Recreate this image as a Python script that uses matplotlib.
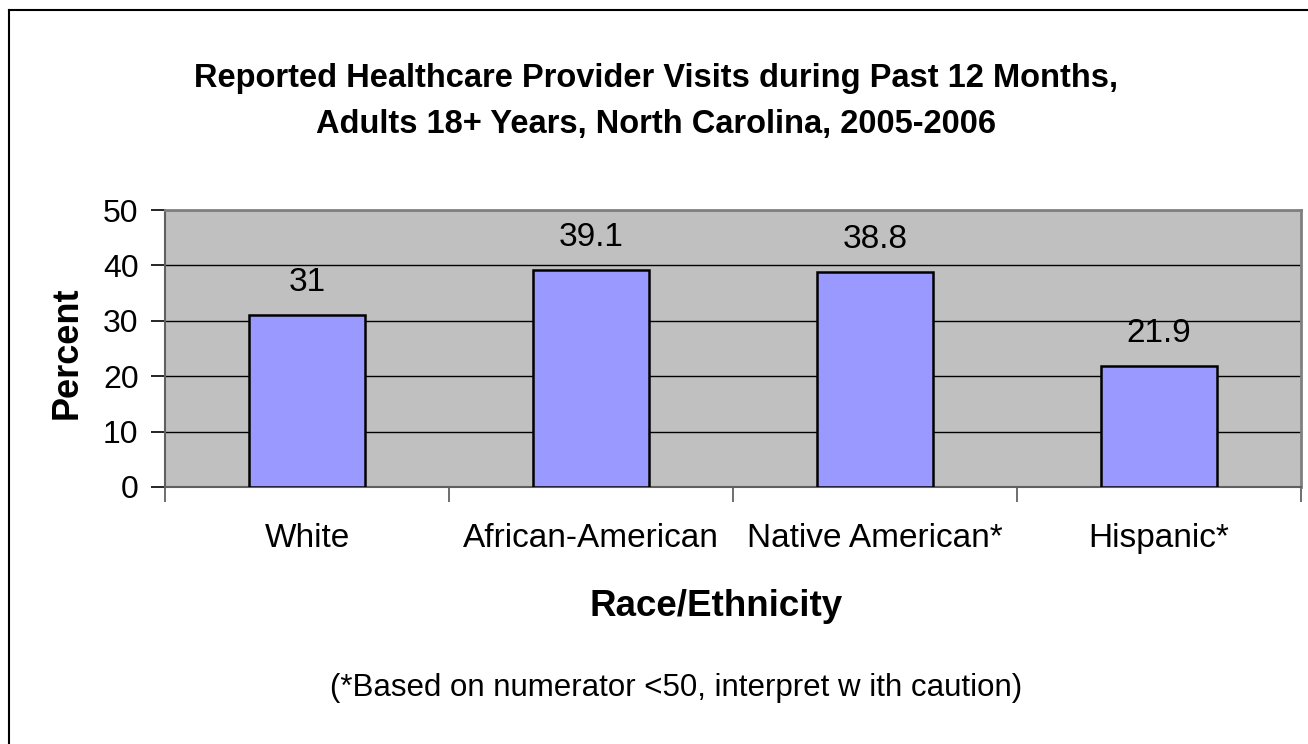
import matplotlib
matplotlib.use("Agg")
import matplotlib.pyplot as plt
from matplotlib.lines import Line2D

categories = ["White", "African-American", "Native American*", "Hispanic*"]
values = [31, 39.1, 38.8, 21.9]
value_labels = ["31", "39.1", "38.8", "21.9"]
yticks = [0, 10, 20, 30, 40, 50]

title = "Reported Healthcare Provider Visits during Past 12 Months,\nAdults 18+ Years, North Carolina, 2005-2006"
xlabel = "Race/Ethnicity"
ylabel = "Percent"
footnote = "(*Based on numerator <50, interpret w ith caution)"

plt.rcParams['font.family'] = ['Liberation Sans', 'DejaVu Sans']

fig = plt.figure(figsize=(13.08, 7.44), dpi=100)
fig.patch.set_facecolor("white")
ax = fig.add_axes([165/1308, 1 - 487/744, (1301-165)/1308, (487-210)/744])
ax.set_facecolor("#C0C0C0")

x = list(range(len(categories)))
ax.bar(x, values, width=0.405, color="#9999FF", edgecolor="black", linewidth=1.8, zorder=3)
for xi, v, lab in zip(x, values, value_labels):
    ax.text(xi, v + 3.1, lab, ha="center", va="bottom", fontsize=24, zorder=4)

ax.set_xlim(-0.5, len(categories) - 0.5)
ax.set_ylim(0, 50)
ax.set_yticks(yticks)
ax.set_yticklabels([str(t) for t in yticks], fontsize=23)
ax.yaxis.grid(True, color="black", linewidth=1.0, zorder=1)
ax.set_axisbelow(True)

ax.set_xticks([i + 0.5 for i in range(-1, len(categories))], minor=False)
ax.set_xticklabels([])
ax.set_xticks(x, minor=True)
ax.set_xticklabels(categories, minor=True, fontsize=24)
ax.tick_params(axis="x", which="major", length=11, width=1.2, color="#555555", direction="out")
ax.tick_params(axis="x", which="minor", length=0, pad=26)
ax.tick_params(axis="y", length=10, width=1.2, color="black", direction="out", pad=9)

for side in ["top", "right"]:
    ax.spines[side].set_color("#808080")
    ax.spines[side].set_linewidth(2)
ax.spines["left"].set_color("#606060")
ax.spines["left"].set_linewidth(1.5)
ax.spines["bottom"].set_color("#606060")
ax.spines["bottom"].set_linewidth(1.5)

fig.text(656/1308, 1 - 101.5/744, title, ha="center", va="center", fontsize=23.5,
         fontweight="bold", linespacing=1.66)
fig.text(716/1308, 1 - 606/744, xlabel, ha="center", va="center", fontsize=26.5, fontweight="bold")
fig.text(67/1308, 1 - 353/744, ylabel, ha="center", va="center", fontsize=26,
         fontweight="bold", rotation=90)
fig.text(676/1308, 1 - 688/744, footnote, ha="center", va="center", fontsize=22.5)

# outer frame (top and left edges visible)
fig.add_artist(Line2D([9/1308, 1], [1 - 10/744, 1 - 10/744], color="black", linewidth=1.5,
                      transform=fig.transFigure))
fig.add_artist(Line2D([9/1308, 9/1308], [0, 1 - 10/744], color="black", linewidth=1.5,
                      transform=fig.transFigure))

fig.savefig("out.png", dpi=100)
